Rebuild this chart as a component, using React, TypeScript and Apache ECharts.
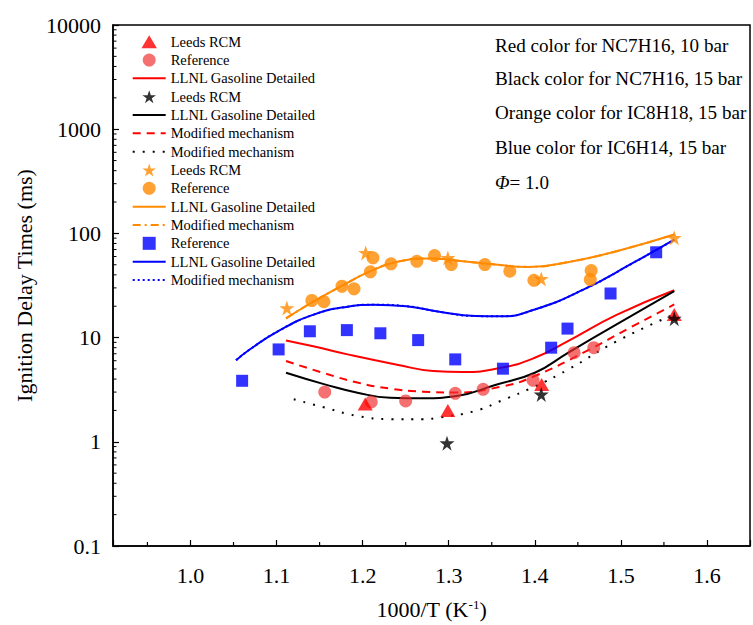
import { useEffect, useRef } from 'react';
import * as echarts from 'echarts';

const FONT = '"Liberation Serif", "Times New Roman", Times, serif';

// ---- NC7H16, 10 bar (red)
const redRcmX = [1.203, 1.299, 1.408, 1.562];
const redRcmY = [2.3, 2.0, 3.55, 16.7];
const redRefX = [1.156, 1.21, 1.25, 1.3076, 1.34, 1.398, 1.4457, 1.4685];
const redRefY = [3.0, 2.41, 2.47, 2.92, 3.19, 3.89, 7.16, 8.0];
const redLlnlX = [1.111, 1.144, 1.1825, 1.24, 1.282, 1.316, 1.362, 1.4, 1.438, 1.495, 1.562];
const redLlnlY = [9.4, 8.2, 6.9, 5.5, 4.78, 4.67, 5.15, 6.4, 9.2, 16.5, 28.5];
const redModX = [1.111, 1.156, 1.194, 1.232, 1.27, 1.305, 1.362, 1.4, 1.457, 1.514, 1.562];
const redModY = [5.96, 4.54, 3.7, 3.24, 3.03, 2.97, 3.4, 4.28, 7.2, 12.9, 20.8];

// ---- NC7H16, 15 bar (black)
const blackRcmX = [1.298, 1.4075, 1.562];
const blackRcmY = [0.97, 2.85, 15.2];
const blackLlnlX = [1.111, 1.156, 1.194, 1.232, 1.27, 1.309, 1.354, 1.4, 1.438, 1.495, 1.562];
const blackLlnlY = [4.6, 3.56, 2.96, 2.65, 2.62, 2.75, 3.51, 4.6, 7.1, 13.4, 27.9];
const blackModX = [1.12, 1.156, 1.194, 1.233, 1.27, 1.289, 1.331, 1.362, 1.4, 1.438, 1.495, 1.562];
const blackModY = [2.56, 2.13, 1.77, 1.65, 1.65, 1.71, 1.98, 2.5, 3.4, 4.9, 9.2, 16.7];

// ---- IC8H18, 15 bar (orange)
const orangeRcmX = [1.112, 1.2035, 1.299, 1.4075, 1.562];
const orangeRcmY = [19.2, 65, 58.2, 36.6, 90.6];
const orangeRefX = [1.141, 1.155, 1.176, 1.19, 1.209, 1.212, 1.233, 1.263, 1.2835, 1.303, 1.342, 1.371, 1.399, 1.4645, 1.4655];
const orangeRefY = [22.7, 22.1, 31.1, 29.4, 42.8, 58.3, 51, 54, 61.3, 50.2, 50.2, 43.4, 35.5, 36.1, 44];
const orangeLlnlX = [1.111, 1.1405, 1.175, 1.209, 1.2397, 1.278, 1.316, 1.354, 1.392, 1.438, 1.495, 1.562];
const orangeLlnlY = [15.3, 21.6, 31.1, 43.4, 53.3, 57.4, 54.1, 50.2, 47.7, 52.9, 67.5, 97.5];
const orangeModX = [1.111, 1.1405, 1.175, 1.209, 1.2397, 1.278, 1.316, 1.354, 1.392, 1.438, 1.495, 1.562];
const orangeModY = [15.3, 21.6, 31.1, 43.4, 53.3, 57.4, 54.1, 50.2, 47.7, 52.9, 67.5, 97.5];

// ---- IC6H14, 15 bar (blue)
const blueRefX = [1.06, 1.1024, 1.1387, 1.1817, 1.2206, 1.2645, 1.3076, 1.363, 1.419, 1.438, 1.488, 1.541];
const blueRefY = [3.85, 7.7, 11.5, 11.8, 11.0, 9.46, 6.18, 5.03, 8.0, 12.2, 26.5, 65.9];
const blueLlnlX = [1.053, 1.068, 1.104, 1.144, 1.1825, 1.213, 1.251, 1.289, 1.331, 1.36, 1.4, 1.457, 1.514, 1.562];
const blueLlnlY = [6.05, 7.6, 11.8, 16.7, 19.8, 20.7, 20.0, 17.7, 16.1, 16.0, 18.6, 29, 52, 87];
const blueModX = [1.053, 1.068, 1.104, 1.144, 1.1825, 1.213, 1.251, 1.289, 1.331, 1.36, 1.4, 1.457, 1.514, 1.562];
const blueModY = [6.05, 7.6, 11.8, 16.7, 19.8, 20.7, 20.0, 17.7, 16.1, 16.0, 18.6, 29, 52, 87];

// ---- axes
const X_MIN = 0.91;
const X_MAX = 1.65;
const Y_MIN = 0.1;
const Y_MAX = 10000;
const xMinorTicks = [0.95, 1.05, 1.15, 1.25, 1.35, 1.45, 1.55];
const yDecades = [0.1, 1, 10, 100, 1000];
const yMinorMultipliers = [2, 3, 4, 5, 6, 7, 8, 9];

const annotations = [
  'Red color for NC7H16, 10 bar',
  'Black color for NC7H16, 15 bar',
  'Orange color for IC8H18, 15 bar',
  'Blue color for IC6H14, 15 bar',
];

const RED = '#ff0000';
const RED_PT = 'rgba(240,45,45,0.85)';
const BLACK = '#000000';
const ORANGE = '#ff8a00';
const BLUE = '#0000ff';
const STAR = 'path://M50,0L61.8,35.5L99,35.5L68.8,57.5L80.3,93.5L50,71.3L19.7,93.5L31.2,57.5L1,35.5L38.2,35.5Z';
const TRIANGLE = 'path://M50,0L100,84L0,84Z';
const SQUARE = 'path://M0,0H10V10H0Z';

const zip = (xs: number[], ys: number[]) => xs.map((x, i) => [x, ys[i]]);

const lineS = (name: string, xs: number[], ys: number[], color: string, type: any, z = 2) => ({
  type: 'line',
  name,
  data: zip(xs, ys),
  smooth: true,
  symbol: 'none',
  lineStyle: { color, width: 2, type },
  itemStyle: { color },
  z,
  silent: true,
});

const scatterS = (name: string, xs: number[], ys: number[], color: string, symbol: string, size: any) => ({
  type: 'scatter',
  name,
  data: zip(xs, ys),
  symbol,
  symbolSize: size,
  itemStyle: { color },
  z: 5,
  silent: true,
});

export default function App() {
  const ref = useRef<HTMLDivElement>(null);
  useEffect(() => {
    if (!ref.current) return;
    const chart = echarts.init(ref.current, undefined, { renderer: 'svg' });

    const yMinor: number[][] = [];
    yDecades.forEach((d) => yMinorMultipliers.forEach((m) => yMinor.push([X_MIN, d * m])));

    const pt = (name: string) => ({ name });
    const ln = (name: string) => ({ name, itemStyle: { opacity: 0 } });
    const legendData = [
      pt('Leeds RCM#1'),
      pt('Reference#1'),
      ln('LLNL Gasoline Detailed#1'),
      pt('Leeds RCM#2'),
      ln('LLNL Gasoline Detailed#2'),
      ln('Modified mechanism#1'),
      ln('Modified mechanism#2'),
      pt('Leeds RCM#3'),
      pt('Reference#3'),
      ln('LLNL Gasoline Detailed#3'),
      ln('Modified mechanism#3'),
      pt('Reference#4'),
      ln('LLNL Gasoline Detailed#4'),
      ln('Modified mechanism#4'),
    ];

    const option: any = {
      animation: false,
      grid: {
        left: 113,
        top: 25,
        width: 647,
        height: 522,
        show: true,
        borderColor: '#000',
        borderWidth: 1.5,
        backgroundColor: 'transparent',
      },
      legend: {
        data: legendData,
        orient: 'vertical',
        left: 131.7,
        top: 34.2,
        padding: 0,
        itemWidth: 33,
        itemHeight: 13,
        itemGap: 3.33,
        selectedMode: false,
        formatter: (n: string) => n.split('#')[0],
        textStyle: { fontFamily: FONT, fontSize: 14.5, color: '#000', lineHeight: 15 },
      },
      xAxis: {
        type: 'value',
        min: X_MIN,
        max: X_MAX,
        splitNumber: 7,
        splitLine: { show: false },
        axisLine: { show: true, onZero: false, lineStyle: { color: '#000', width: 1.5 } },
        axisTick: { show: true, inside: true, length: 6, lineStyle: { color: '#000', width: 1.2 } },
        axisLabel: {
          fontFamily: FONT,
          fontSize: 22,
          color: '#000',
          margin: 18,
          formatter: (v: number) => {
            const r = Math.round(v * 10) / 10;
            return Math.abs(v - r) < 1e-6 ? r.toFixed(1) : '';
          },
        },
        name: '1000/T (K{sup|-1})',
        nameLocation: 'middle',
        nameGap: 52,
        nameTextStyle: {
          fontFamily: FONT,
          fontSize: 22,
          color: '#000',
          rich: { sup: { fontFamily: FONT, fontSize: 13, color: '#000', verticalAlign: 'top', lineHeight: 13 } },
        },
      },
      yAxis: {
        type: 'log',
        logBase: 10,
        min: Y_MIN,
        max: Y_MAX,
        splitLine: { show: false },
        axisLine: { show: true, onZero: false, lineStyle: { color: '#000', width: 1.5 } },
        axisTick: { show: true, inside: true, length: 6, lineStyle: { color: '#000', width: 1.2 } },
        axisLabel: {
          fontFamily: FONT,
          fontSize: 22,
          color: '#000',
          margin: 12,
          formatter: (v: number) => (v >= 1 ? String(Math.round(v)) : String(Math.round(v * 10) / 10)),
        },
        name: 'Ignition Delay Times (ms)',
        nameLocation: 'middle',
        nameGap: 78,
        nameTextStyle: { fontFamily: FONT, fontSize: 22, color: '#000' },
      },
      graphic: [
        ...annotations.map((t, i) => ({
          type: 'text',
          x: 495,
          y: [45.7, 78.3, 112.5, 147][i],
          style: { text: t, fontFamily: FONT, fontSize: 19.1, fill: '#000', verticalAlign: 'middle' },
          silent: true,
        })),
        {
          type: 'text',
          x: 495,
          y: 182.5,
          style: {
            text: '{i|Φ}{n|= 1.0}',
            fill: '#000',
            verticalAlign: 'middle',
            rich: {
              i: { fontFamily: FONT, fontSize: 19.1, fontStyle: 'italic', fill: '#000' },
              n: { fontFamily: FONT, fontSize: 19.1, fill: '#000' },
            },
          },
          silent: true,
        },
      ],
      series: [
        lineS('Modified mechanism#4', blueModX, blueModY, BLUE, [2, 3], 1),
        lineS('LLNL Gasoline Detailed#4', blueLlnlX, blueLlnlY, BLUE, 'solid'),
        lineS('LLNL Gasoline Detailed#3', orangeLlnlX, orangeLlnlY, ORANGE, 'solid'),
        lineS('Modified mechanism#3', orangeModX, orangeModY, ORANGE, [8, 4, 2, 4], 3),
        lineS('LLNL Gasoline Detailed#1', redLlnlX, redLlnlY, RED, 'solid'),
        lineS('Modified mechanism#1', redModX, redModY, RED, [8, 6]),
        lineS('LLNL Gasoline Detailed#2', blackLlnlX, blackLlnlY, BLACK, 'solid'),
        lineS('Modified mechanism#2', blackModX, blackModY, BLACK, [2, 8]),
        scatterS('Reference#4', blueRefX, blueRefY, BLUE, SQUARE, 12),
        scatterS('Reference#3', orangeRefX, orangeRefY, ORANGE, 'circle', 13),
        scatterS('Leeds RCM#3', orangeRcmX, orangeRcmY, ORANGE, STAR, 15),
        scatterS('Reference#1', redRefX, redRefY, RED_PT, 'circle', 13),
        scatterS('Leeds RCM#1', redRcmX, redRcmY, RED, TRIANGLE, [15, 13]),
        scatterS('Leeds RCM#2', blackRcmX, blackRcmY, BLACK, STAR, 15),
        {
          type: 'custom',
          name: 'xMinor',
          data: xMinorTicks.map((v) => [v, Y_MIN]),
          clip: false,
          silent: true,
          z: 10,
          renderItem: (_p: any, api: any) => {
            const p = api.coord([api.value(0), api.value(1)]);
            return {
              type: 'line',
              shape: { x1: p[0], y1: p[1], x2: p[0], y2: p[1] - 4 },
              style: { stroke: '#000', lineWidth: 1.2 },
            };
          },
        },
        {
          type: 'custom',
          name: 'yMinor',
          data: yMinor,
          clip: false,
          silent: true,
          z: 10,
          renderItem: (_p: any, api: any) => {
            const p = api.coord([api.value(0), api.value(1)]);
            return {
              type: 'line',
              shape: { x1: p[0], y1: p[1], x2: p[0] + 3.5, y2: p[1] },
              style: { stroke: '#000', lineWidth: 1 },
            };
          },
        },
      ],
    };
    chart.setOption(option);
    return () => chart.dispose();
  }, []);
  return <div ref={ref} style={{ position: 'absolute', left: 0, top: 0, width: 753, height: 625 }} />;
}
